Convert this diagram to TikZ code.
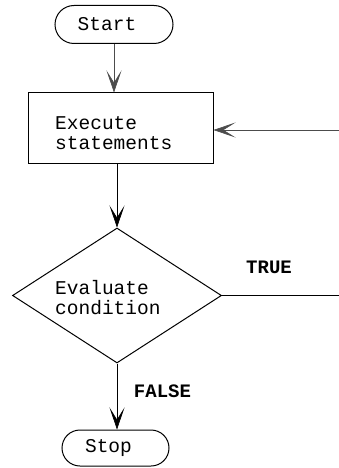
\documentclass[tikz,border=0pt]{standalone}
\usepackage{fontspec}
\setmonofont{Liberation Mono}
\usetikzlibrary{shapes.misc,shapes.geometric,arrows.meta}
\begin{document}
\begin{tikzpicture}[x=1pt,y=-1pt,
    every node/.style={font=\ttfamily\fontsize{19.5}{20}\selectfont, inner sep=0pt},
    term/.style={rounded rectangle, draw, line width=1pt},
    procbox/.style={rectangle, draw, line width=1pt},
    decision/.style={diamond, draw, line width=1pt},
    flow/.style={line width=1pt, -{Stealth[length=22pt,width=15pt,inset=12pt,line width=0.6pt]}},
    softflow/.style={flow, draw=black!70, fill=black!70},
    caption/.style={anchor=west, align=left},
    branch/.style={font=\ttfamily\bfseries\fontsize{19}{20}\selectfont}]
  \useasboundingbox (0,0) rectangle (339,468);

  % terminals, process and decision
  \node[term, minimum width=118pt, minimum height=38pt] (start) at (114,24.5) {\hspace*{-14pt}Start};
  \node[procbox, minimum width=185pt, minimum height=70pt] (exec) at (120.5,128) {};
  \node[caption] (exectext) at (55,133) {Execute\\statements};
  \node[decision, minimum width=209pt, minimum height=135pt] (cond) at (117,295.5) {};
  \node[caption] (condtext) at (55,298) {Evaluate\\condition};
  \node[term, minimum width=107pt, minimum height=36pt] (stop) at (115.5,448) {\hspace*{-14pt}Stop};

  % branch labels
  \node[branch] (true) at (269,267) {TRUE};
  \node[branch] (false) at (162.5,391) {FALSE};

  % loose ends at the right edge
  \coordinate (loopin) at (339,130);
  \coordinate (loopout) at (339,295.5);

  % connectors
  \draw[softflow] (start.south) -- (start.south |- exec.north);
  \draw[flow] (cond.north |- exec.south) -- (cond.north);
  \draw[softflow] (loopin) -- (loopin -| exec.east);
  \draw[line width=1pt] (cond.east) -- (loopout);
  \draw[flow] (cond.south) -- (cond.south |- stop.north);
\end{tikzpicture}
\end{document}
